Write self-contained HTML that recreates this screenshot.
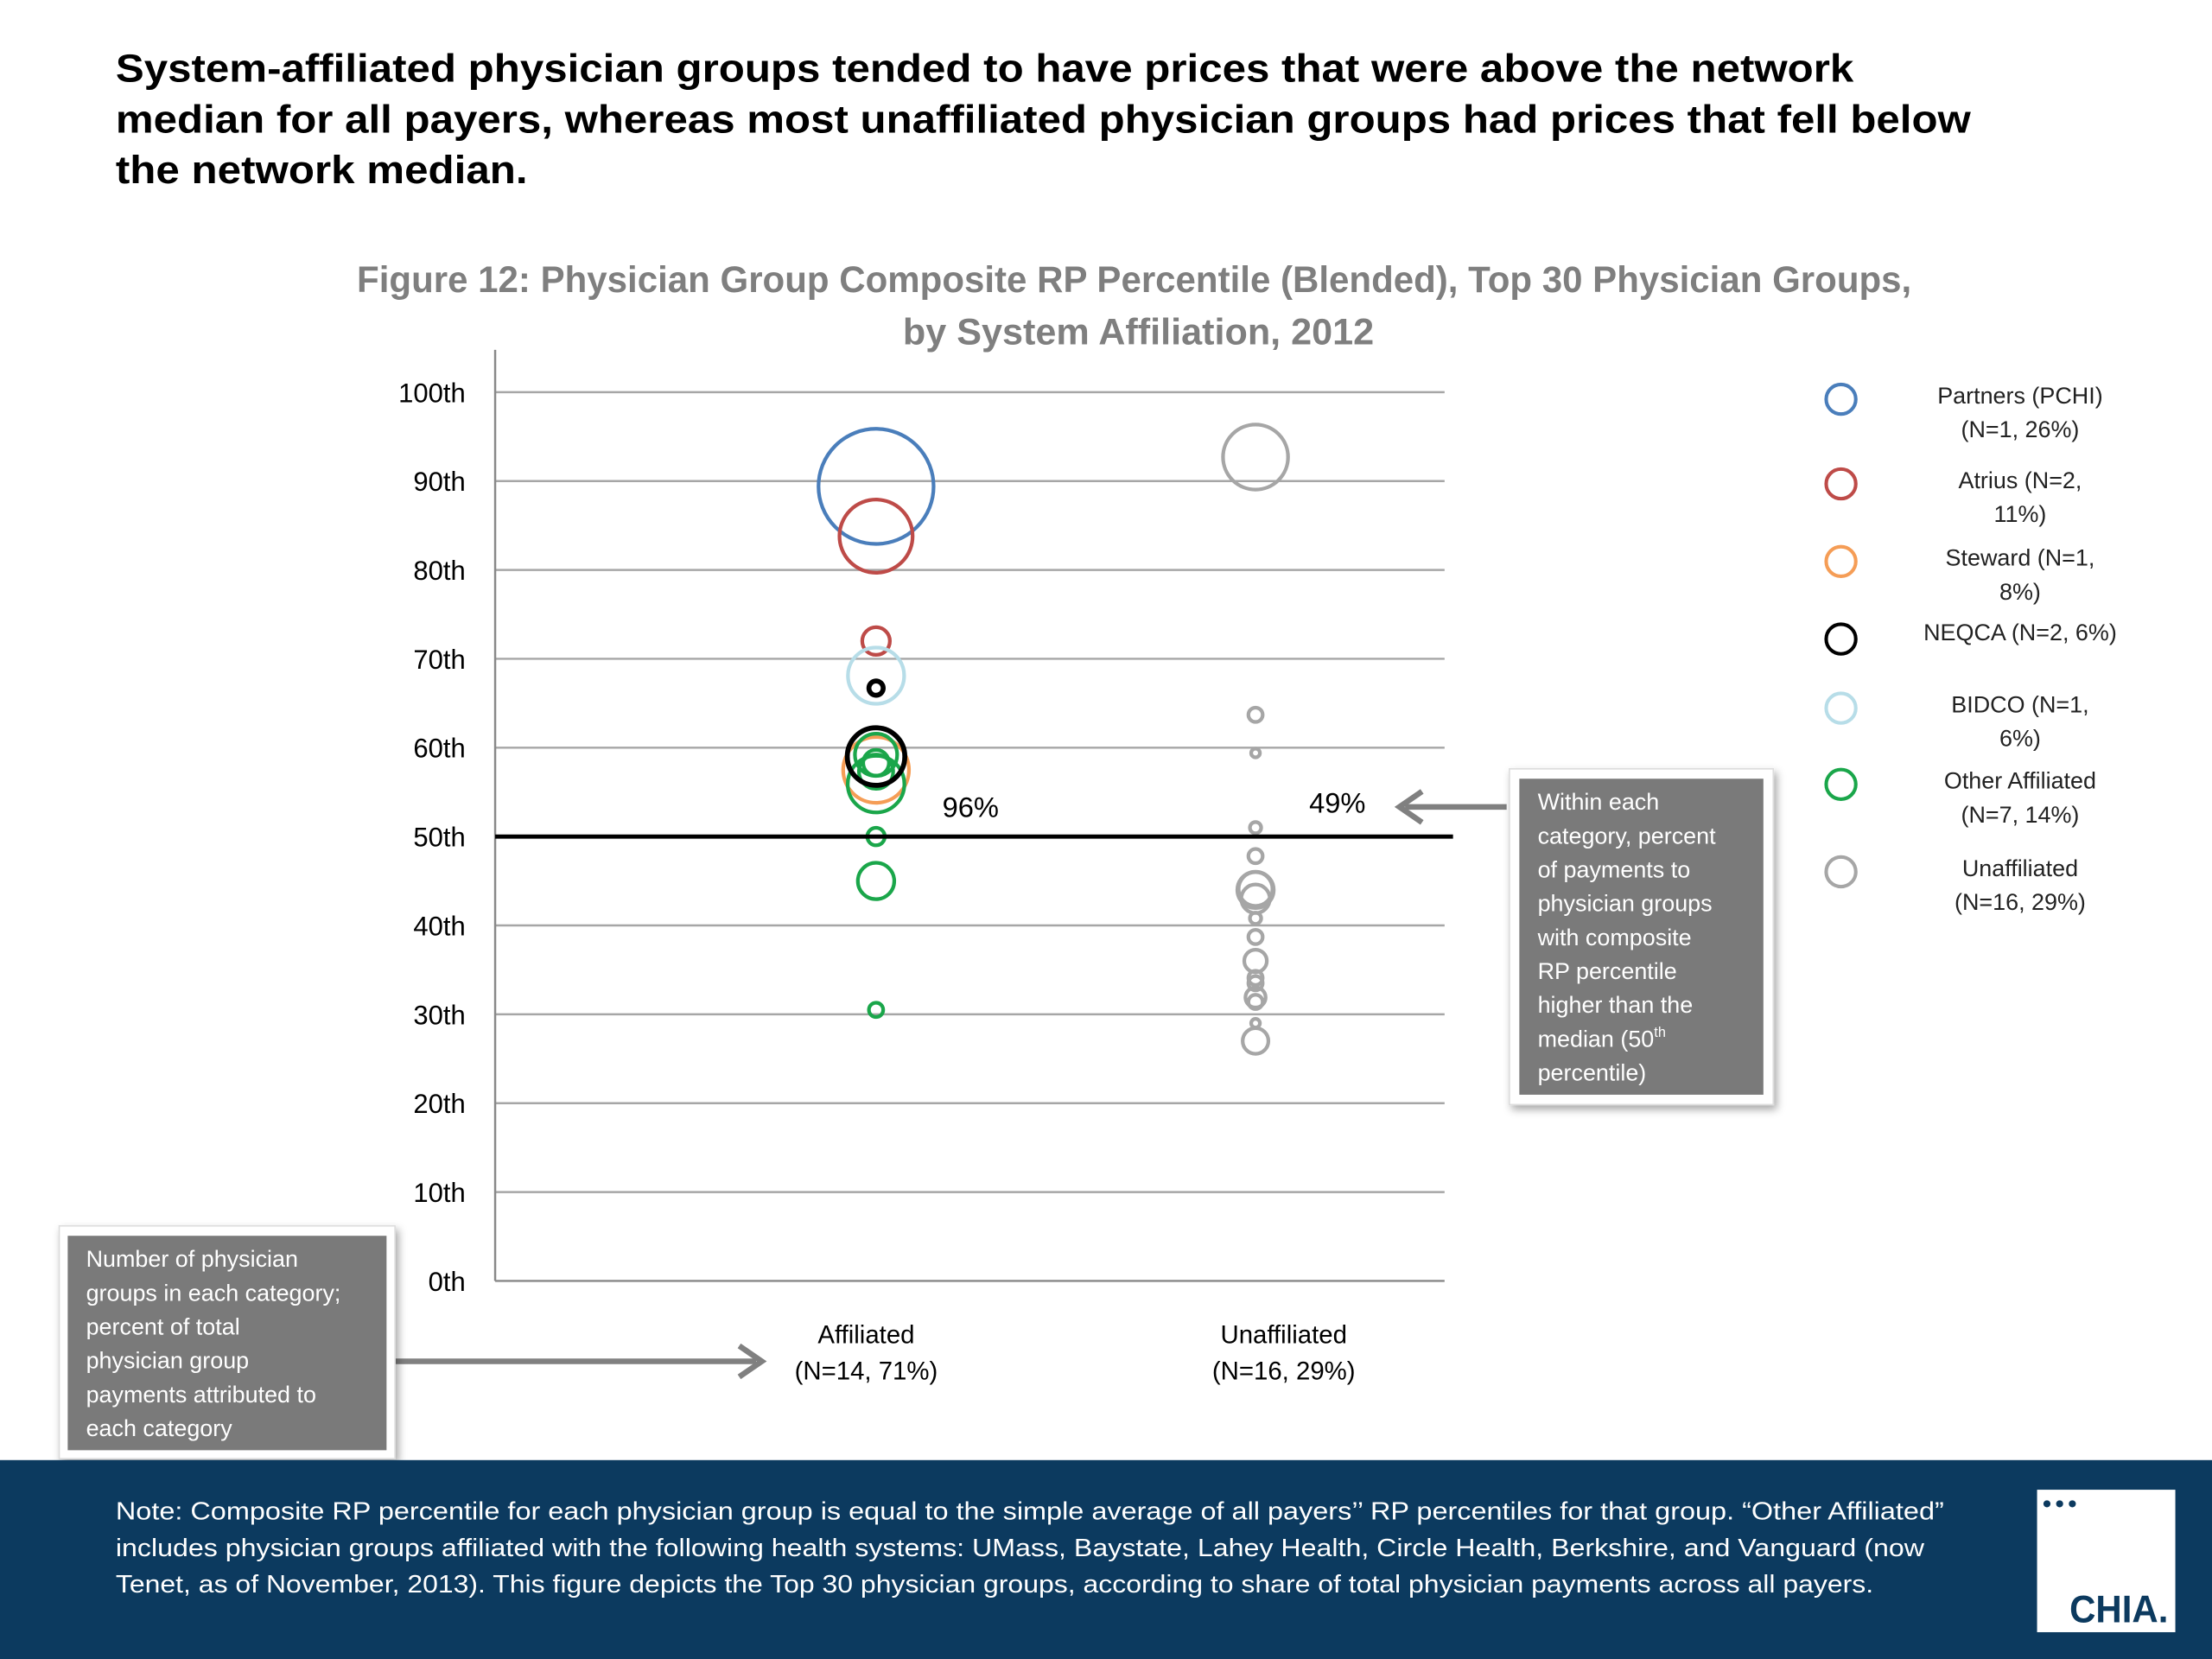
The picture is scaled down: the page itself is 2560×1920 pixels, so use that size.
<!DOCTYPE html>
<html><head><meta charset="utf-8"><style>
html,body{margin:0;padding:0;background:#fff;}
svg{display:block;}
text{font-family:"Liberation Sans",sans-serif;}
</style></head><body>
<svg id="chart" width="2560" height="1920" viewBox="0 0 1568 1176" xmlns="http://www.w3.org/2000/svg">
<defs>
<filter id="sh" x="-10%" y="-10%" width="130%" height="130%"><feDropShadow dx="2" dy="3" stdDeviation="3" flood-color="#000" flood-opacity="0.35"/></filter>
</defs>
<g font-weight="bold" font-size="28" fill="#000">
<text x="82" y="58" textLength="1232" lengthAdjust="spacingAndGlyphs">System-affiliated physician groups tended to have prices that were above the network</text>
<text x="82" y="94" textLength="1315" lengthAdjust="spacingAndGlyphs">median for all payers, whereas most unaffiliated physician groups had prices that fell below</text>
<text x="82" y="130" textLength="292" lengthAdjust="spacingAndGlyphs">the network median.</text>
</g>
<g font-weight="bold" font-size="26" fill="#7f7f7f">
<text x="253" y="207" textLength="1102" lengthAdjust="spacingAndGlyphs">Figure 12: Physician Group Composite RP Percentile (Blended), Top 30 Physician Groups,</text>
<text x="640" y="244" textLength="334" lengthAdjust="spacingAndGlyphs">by System Affiliation, 2012</text>
</g>
<g id="grid"></g>
<g id="yticks" font-size="19" fill="#000" text-anchor="end"></g>
<line x1="351" y1="248" x2="351" y2="908" stroke="#888" stroke-width="1.5"/>
<g id="bubbles"></g>
<line id="median" x1="351" x2="1030" stroke="#000" stroke-width="3"/>
<text x="668" y="579" font-size="20">96%</text>
<text x="928" y="576" font-size="20">49%</text>
<g font-size="18" text-anchor="middle" fill="#000">
<text x="614" y="952">Affiliated</text><text x="614" y="978">(N=14, 71%)</text>
<text x="910" y="952">Unaffiliated</text><text x="910" y="978">(N=16, 29%)</text>
</g>
<g id="legend" font-size="16.5" text-anchor="middle" fill="#222"></g>
<g>
<line x1="1068" y1="572" x2="996" y2="572" stroke="#808080" stroke-width="4"/>
<polyline points="1008,561 992,572 1008,583" fill="none" stroke="#808080" stroke-width="4"/>
<rect x="1070" y="545" width="187" height="238" fill="#fff" stroke="#ddd" filter="url(#sh)"/>
<rect x="1077" y="552" width="173" height="224" fill="#7a7a7a"/>
<g font-size="16.5" fill="#fff">
<text x="1090" y="574">Within each</text><text x="1090" y="598">category, percent</text><text x="1090" y="622">of payments to</text><text x="1090" y="646">physician groups</text><text x="1090" y="670">with composite</text><text x="1090" y="694">RP percentile</text><text x="1090" y="718">higher than the</text><text x="1090" y="742">median (50<tspan font-size="10" dy="-7">th</tspan></text><text x="1090" y="766">percentile)</text>
</g></g>
<g>
<line x1="280" y1="965" x2="536" y2="965" stroke="#808080" stroke-width="4"/>
<polyline points="524,954 540,965 524,976" fill="none" stroke="#808080" stroke-width="4"/>
<rect x="42" y="869" width="238" height="165" fill="#fff" stroke="#ddd" filter="url(#sh)"/>
<rect x="48" y="876" width="226" height="152" fill="#7a7a7a"/>
<g font-size="16.5" fill="#fff">
<text x="61" y="898">Number of physician</text><text x="61" y="922">groups in each category;</text><text x="61" y="946">percent of total</text><text x="61" y="970">physician group</text><text x="61" y="994">payments attributed to</text><text x="61" y="1018">each category</text>
</g></g>
<rect x="0" y="1035" width="1568" height="141" fill="#0c3a5f"/>
<g font-size="17.5" fill="#fff">
<text x="82" y="1077" textLength="1296" lengthAdjust="spacingAndGlyphs">Note: Composite RP percentile for each physician group is equal to the simple average of all payers’’ RP percentiles for that group. “Other Affiliated”</text>
<text x="82" y="1103" textLength="1282" lengthAdjust="spacingAndGlyphs">includes physician groups affiliated with the following health systems: UMass, Baystate, Lahey Health, Circle Health,  Berkshire, and Vanguard (now</text>
<text x="82" y="1129" textLength="1246" lengthAdjust="spacingAndGlyphs">Tenet, as of November, 2013). This figure depicts the Top 30 physician groups, according to share of total physician payments across all payers.</text>
</g>
<g>
<rect x="1444" y="1056" width="98" height="101" fill="#fff"/>
<circle cx="1451" cy="1066" r="2.5" fill="#0c3a5f"/><circle cx="1460" cy="1066" r="2.5" fill="#0c3a5f"/><circle cx="1469" cy="1066" r="2.5" fill="#0c3a5f"/>
<text x="1467" y="1150" font-size="27" font-weight="bold" fill="#0c3a5f" textLength="70" lengthAdjust="spacingAndGlyphs">CHIA.</text>
</g>
</svg>
<script>
const yTicks = [0,10,20,30,40,50,60,70,80,90,100];
const yTickLabels = ["0th","10th","20th","30th","40th","50th","60th","70th","80th","90th","100th"];
const medianValue = 50;
const categories = ["Affiliated","Unaffiliated"];
const seriesNames = ["Partners (PCHI)","Atrius","Steward","NEQCA","BIDCO","Other Affiliated","Unaffiliated"];
const seriesColors = ["#4a7ebb","#be4b48","#f59d56","#000000","#b7dde8","#1aa64a","#a6a6a6"];
const seriesCategory = [0,0,0,0,0,0,1];
const legendLine1 = ["Partners (PCHI)","Atrius (N=2,","Steward (N=1,","NEQCA (N=2, 6%)","BIDCO (N=1,","Other Affiliated","Unaffiliated"];
const legendLine2 = ["(N=1, 26%)","11%)","8%)","","6%)","(N=7, 14%)","(N=16, 29%)"];
const partnersValues = [89.4];
const partnersShares = [26];
const atriusValues = [83.8, 72.0];
const atriusShares = [10.5, 1.5];
const stewardValues = [57.5];
const stewardShares = [8.5];
const neqcaValues = [59.0, 66.7];
const neqcaShares = [6.5, 0.4];
const bidcoValues = [68.1];
const bidcoShares = [6.2];
const otherValues = [59.2, 58.3, 55.9, 57.3, 45.0, 50.0, 30.5];
const otherShares = [3.5, 1.3, 6.3, 2.3, 2.6, 0.6, 0.4];
const unaffValues = [92.7, 63.7, 59.4, 51.0, 47.8, 44.1, 43.0, 44.0, 40.8, 38.7, 36.0, 34.1, 33.5, 31.9, 31.4, 29.0, 27.0];
const unaffShares = [8.3, 0.4, 0.15, 0.25, 0.4, 2.25, 1.6, 2.6, 0.25, 0.4, 1.0, 0.4, 0.4, 0.8, 0.4, 0.15, 1.3];

const NS = "http://www.w3.org/2000/svg";
const y0 = 908, y100 = 278;
function yScale(v){ return y0 - (v/100)*(y0-y100); }
const catX = [621, 890];
function xScale(i){ return catX[i]; }
function rScale(s){ return 8*Math.sqrt(s); }

const grid = document.getElementById('grid');
const yt = document.getElementById('yticks');
yTicks.forEach((t,i)=>{
  if (t>0){
    const l = document.createElementNS(NS,'line');
    l.setAttribute('x1',351); l.setAttribute('x2',1024);
    l.setAttribute('y1',yScale(t)); l.setAttribute('y2',yScale(t));
    l.setAttribute('stroke','#a6a6a6'); l.setAttribute('stroke-width','1.5');
    
    
    grid.appendChild(l);
  } else {
    const l = document.createElementNS(NS,'line');
    l.setAttribute('x1',351); l.setAttribute('x2',1024);
    l.setAttribute('y1',yScale(t)); l.setAttribute('y2',yScale(t));
    l.setAttribute('stroke','#888'); l.setAttribute('stroke-width','1.5');
    
    
    grid.appendChild(l);
  }
  const tx = document.createElementNS(NS,'text');
  tx.setAttribute('x',330); tx.setAttribute('y',yScale(t)+7);
  tx.textContent = yTickLabels[i];
  
  
  yt.appendChild(tx);
});
const med = document.getElementById('median');
med.setAttribute('y1', yScale(medianValue)); med.setAttribute('y2', yScale(medianValue));

const allValues = [partnersValues, atriusValues, stewardValues, neqcaValues, bidcoValues, otherValues, unaffValues];
const allShares = [partnersShares, atriusShares, stewardShares, neqcaShares, bidcoShares, otherShares, unaffShares];
const order = [0,1,4,2,5,3,6];
const bg = document.getElementById('bubbles');
order.forEach(s=>{
  allValues[s].forEach((v,j)=>{
    const c = document.createElementNS(NS,'circle');
    c.setAttribute('cx', xScale(seriesCategory[s]));
    c.setAttribute('cy', yScale(v));
    c.setAttribute('r', rScale(allShares[s][j]));
    c.setAttribute('fill','none');
    c.setAttribute('stroke', seriesColors[s]);
    c.setAttribute('stroke-width', s===3 ? 3.5 : 2.6);
    
    
    bg.appendChild(c);
  });
});

const lg = document.getElementById('legend');
const legY = [283, 343, 398, 453, 502, 556, 618];
seriesNames.forEach((n,i)=>{
  const c = document.createElementNS(NS,'circle');
  c.setAttribute('cx',1305); c.setAttribute('cy',legY[i]); c.setAttribute('r',10.5);
  c.setAttribute('fill','none'); c.setAttribute('stroke',seriesColors[i]); c.setAttribute('stroke-width',2.5);
  
  
  lg.appendChild(c);
  const t1 = document.createElementNS(NS,'text');
  t1.setAttribute('x',1432);
  t1.setAttribute('y', legendLine2[i] ? legY[i]+3 : legY[i]+1);
  t1.textContent = legendLine1[i];
  
  
  lg.appendChild(t1);
  if (legendLine2[i]){
    const t2 = document.createElementNS(NS,'text');
    t2.setAttribute('x',1432); t2.setAttribute('y',legY[i]+27);
    t2.textContent = legendLine2[i];
    
    
    lg.appendChild(t2);
  }
});
</script>
</body></html>
